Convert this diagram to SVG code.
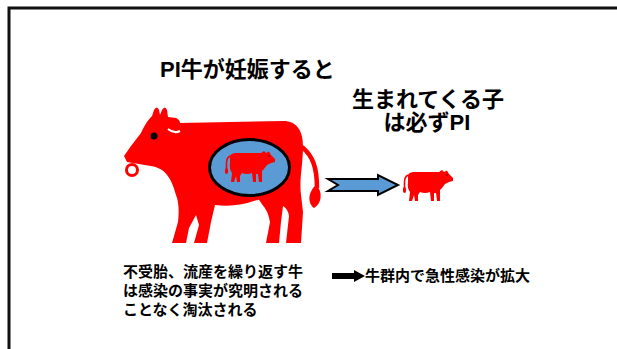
<svg xmlns="http://www.w3.org/2000/svg" width="617" height="349" viewBox="0 0 617 349">
  <style>
    .ttl { font-family: "Liberation Sans", "Noto Sans CJK JP", sans-serif; font-weight: bold; font-size: 22px; fill: #000; }
    .txt { font-family: "Liberation Sans", "Noto Sans CJK JP", sans-serif; font-weight: bold; font-size: 15px; fill: #000; }
    .red { fill: #ff0000; }
  </style>
  <defs>
    <!-- small right-facing cow silhouette, 50 x 31 -->
    <g id="calf">
      <path class="red" d="M5,6 C5,3 8,2 12,2 L36,2 L39,0 L41,2 L44,0.5 L46,4 L50,8 L50,11 L46,12 L42,14 L39,18 L37,20 L37,31 L34,31 L33,23 L31,23 L31,31 L28,31 L27,22 Q22,24 17,22 L15,25 L15,31 L12,31 L11,25 L9,31 L6,31 L7,22 Q4,18 5,12 Z"/>
      <path d="M5,5 Q1.5,7 1.5,12 L1.5,19" fill="none" stroke="#ff0000" stroke-width="1.6"/>
      <ellipse cx="1.5" cy="20" rx="1.6" ry="3" class="red"/>
      <circle cx="44" cy="5" r="1" fill="#a00000"/>
    </g>
  </defs>

  <rect x="9" y="8" width="620" height="350" fill="#fff" stroke="#111" stroke-width="3"/>

  <g id="title">
    <text class="ttl" x="160" y="77">PI牛が妊娠すると</text>
  </g>

  <g id="cow">
    <path class="red" d="M124,156 L131,146 L141,133 C145,124 149,119 152,116 L154,110 Q157,105 159,110 L160,115 L162,110 Q165,105 167,110 L168,117 L176,118 Q180,120 180,123 L283,121 C297,121 303,131 303,146 C303,165 299,180 301,195 L303,212 L301,243 L286,243 L289,216 Q288,209 283,206 L281,222 L279,243 L266,243 L270,222 Q268,210 262,205 L257,200 Q236,208 215,205 L211,222 L207,243 L194,243 L199,225 L196,215 L189,228 L186,243 L172,243 L178,222 Q180,205 176,195 C172,180 166,168 151,166 Q144,165 139,164 L127,162 Z"/>
    <path d="M168,129 Q174,134 180,131" fill="none" stroke="#fff" stroke-width="2"/>
    <path d="M258,200 L264,209" fill="none" stroke="#fff" stroke-width="2"/>
    <circle cx="132" cy="170" r="5.5" fill="none" stroke="#ff0000" stroke-width="3"/>
    <circle cx="154" cy="136" r="3.5" fill="#000"/>
    <path d="M302,147 C313,156 317,168 317,188" fill="none" stroke="#ff0000" stroke-width="4.5"/>
    <path class="red" d="M316,185 C323,191 322,204 314,208 C308,204 307,193 316,185 Z"/>
    <ellipse cx="249.5" cy="167.5" rx="40" ry="28" fill="#5b9bd5" stroke="#000" stroke-width="3"/>
    <use href="#calf" x="225" y="151"/>
  </g>

  <g id="offspring">
    <text class="ttl" x="428" y="107" text-anchor="middle">生まれてくる子</text>
    <text class="ttl" x="427" y="130" text-anchor="middle">は必ずPI</text>
    <use href="#calf" x="403" y="170"/>
  </g>

  <g id="consequence">
    <text class="txt" x="123" y="277">不受胎、流産を繰り返す牛</text>
    <text class="txt" x="123" y="296">は感染の事実が究明される</text>
    <text class="txt" x="123" y="315">ことなく淘汰される</text>
    <text class="txt" x="365" y="281">牛群内で急性感染が拡大</text>
  </g>

  <g id="connectors">
    <path d="M328,179 L378,179 L378,175 L398,185 L378,195 L378,191 L328,191 L338,185 Z" fill="#5b9bd5" stroke="#000" stroke-width="2" stroke-linejoin="miter"/>
    <path d="M332,273 L354,273 L354,270 L365,276 L354,282 L354,279 L332,279 Z" fill="#000"/>
  </g>
</svg>
